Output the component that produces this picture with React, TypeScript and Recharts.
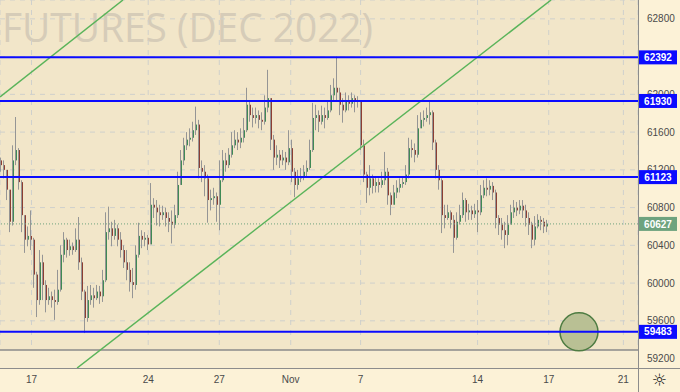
import {
  ComposedChart,
  Bar,
  XAxis,
  YAxis,
  CartesianGrid,
  ReferenceLine,
  ReferenceArea,
  ReferenceDot,
} from 'recharts';

// hourly-ish candles (open = previous close)
const OPEN0 = 61300;
const CLOSE = [
  61250, 61200, 60990, 60650, 61300, 61410, 61070, 60720, 60460, 60500,
  60460, 60090, 59820, 60220, 59980, 59820, 59860, 59820, 59800, 59930,
  60300, 60460, 60350, 60390, 60350, 60460, 60220, 59910, 59630, 59820,
  59870, 59840, 59910, 59860, 60030, 60540, 60580, 60500, 60580, 60460,
  60350, 60220, 60140, 60010, 59980, 60300, 60500, 60460, 60480, 60410,
  60830, 60800, 60750, 60720, 60750, 60690, 60650, 60620, 60720, 61040,
  61300, 61460, 61520, 61540, 61620, 61680, 61220, 61180, 61110, 60880,
  60900, 60920, 60830, 61090, 61300, 61250, 61360, 61460, 61520, 61490,
  61540, 61620, 61890, 61780, 61750, 61780, 61730, 61710, 61860, 61960,
  61520, 61330, 61360, 61300, 61330, 61280, 61430, 61180, 61040, 61110,
  61130, 61180, 61220, 61410, 61750, 61780, 61710, 61780, 61750, 61830,
  61990, 62070, 62020, 61890, 61830, 61940, 61900, 61960, 61920, 61940,
  61460, 61150, 61010, 61110, 61030, 61070, 61040, 61090, 61180, 60930,
  60830, 60960, 61010, 61050, 61070, 61150, 61430, 61410, 61360, 61640,
  61730, 61750, 61780, 61810, 61490, 61200, 61090, 60720, 60690, 60750,
  60670, 60480, 60650, 60720, 60880, 60750, 60770, 60730, 60770, 60750,
  60930, 61010, 60990, 61030, 60960, 60690, 60620, 60560, 60510, 60620,
  60750, 60800, 60770, 60820, 60770, 60690, 60620, 60460, 60600, 60670,
  60650, 60600, 60627,
];
const HIGH = [
  61330, 61300, 61180, 60990, 61460, 61760, 61430, 61090, 60720, 60600,
  60770, 60480, 60120, 60350, 60300, 60030, 59950, 59910, 59930, 60140,
  60400, 60540, 60480, 60460, 60430, 60580, 60700, 60270, 59930, 59970,
  59980, 59950, 59980, 59970, 60140, 60750, 60810, 60650, 60670, 60620,
  60540, 60400, 60350, 60220, 60160, 60400, 60640, 60560, 60540, 60510,
  61060, 60900, 60880, 60830, 60820, 60800, 60750, 60770, 60830, 61180,
  61410, 61540, 61600, 61640, 61710, 61870, 61730, 61300, 61250, 61150,
  60990, 61010, 60960, 61300, 61410, 61380, 61430, 61600, 61620, 61600,
  61640, 61750, 62070, 61940, 61860, 61860, 61830, 61810, 61990, 62260,
  61940, 61570, 61460, 61410, 61410, 61390, 61620, 61520, 61220, 61200,
  61220, 61250, 61300, 61520, 61910, 61890, 61830, 61880, 61860, 61940,
  62100, 62170, 62400, 62070, 61960, 62020, 61990, 62020, 61990, 61980,
  61940, 61520, 61180, 61250, 61150, 61130, 61110, 61180, 61390, 61220,
  60960, 61040, 61090, 61110, 61130, 61250, 61540, 61520, 61480, 61780,
  61810, 61830, 61860, 61920, 61830, 61520, 61250, 61110, 60830, 60830,
  60770, 60720, 60750, 60830, 60960, 60900, 60840, 60820, 60840, 60880,
  61040, 61090, 61110, 61090, 61070, 60990, 60720, 60690, 60650, 60720,
  60830, 60880, 60860, 60880, 60880, 60830, 60750, 60650, 60710, 60730,
  60710, 60690, 60670,
];
const LOW = [
  61180, 61110, 60880, 60540, 60610, 61250, 60990, 60540, 60320, 60390,
  60350, 59950, 59640, 59770, 59820, 59690, 59770, 59740, 59610, 59770,
  59910, 60220, 60270, 60290, 60300, 60330, 60140, 59820, 59470, 59590,
  59770, 59740, 59820, 59780, 59800, 60010, 60460, 60390, 60460, 60390,
  60270, 60160, 60030, 59910, 59840, 59930, 60270, 60370, 60390, 60350,
  60460, 60690, 60610, 60600, 60670, 60600, 60540, 60420, 60580, 60690,
  61040, 61250, 61410, 61450, 61500, 61570, 61110, 61070, 60920, 60640,
  60770, 60830, 60650, 60560, 61070, 61180, 61220, 61330, 61430, 61410,
  61430, 61490, 61600, 61710, 61650, 61690, 61640, 61620, 61680, 61810,
  61410, 61200, 61250, 61220, 61250, 61200, 61250, 61070, 60910, 60990,
  61070, 61090, 61130, 61200, 61390, 61620, 61600, 61680, 61640, 61730,
  61810, 61940, 61920, 61780, 61700, 61810, 61830, 61860, 61810, 61860,
  61410, 61070, 60850, 60930, 60950, 60960, 60960, 61010, 61040, 60830,
  60720, 60830, 60900, 60960, 61010, 61040, 61110, 61330, 61280, 61330,
  61640, 61660, 61710, 61680, 61410, 61110, 60990, 60530, 60580, 60670,
  60580, 60320, 60460, 60620, 60690, 60650, 60670, 60670, 60690, 60540,
  60720, 60900, 60920, 60930, 60880, 60580, 60510, 60460, 60370, 60400,
  60620, 60690, 60710, 60730, 60690, 60600, 60510, 60370, 60400, 60580,
  60560, 60530, 60540,
];

const LEVELS = [62392, 61930, 61123, 59483];
const LAST_PRICE = 60627;
const LOWER_LINE = 59290;
const Y_TICKS = [59200, 59600, 60000, 60400, 60800, 61200, 61600, 62000, 62400, 62800];
const X_TICK_LABELS = ['17', '24', '27', 'Nov', '7', '14', '17', '21'];
const X_TICK_SLOTS = [10.5, 49.4, 73.1, 96.9, 120.2, 159.2, 182.9, 207.8];
// two parallel trend lines, [x slot, price] at each end
const TREND_A = [[0, 61972], [41, 63000]];
const TREND_B = [[25.7, 59100], [183.7, 63000]];
const CIRCLE = { slot: 193, price: 59483 };

const X_DOMAIN = [0, 212.67];
const Y_DOMAIN = [59100, 63000];

const candles = CLOSE.map((c, i) => {
  const o = i === 0 ? OPEN0 : CLOSE[i - 1];
  const h = Math.max(HIGH[i], o, c);
  const l = Math.min(LOW[i], o, c);
  return { t: i + 0.5, open: o, close: c, high: h, low: l, range: [l, h] };
});

const FONT = '"Liberation Sans", Arial, sans-serif';

function Candle(props: any) {
  const { x, y, width, height, payload } = props;
  if (!payload || x == null) return null;
  const top = height < 0 ? y + height : y;
  const h = Math.abs(height);
  const { open, close, high, low } = payload;
  const cx = Math.round(x + width / 2);
  const span = high - low || 1;
  const py = (v: number) => top + ((high - v) / span) * h;
  const bTop = py(Math.max(open, close));
  const bBot = py(Math.min(open, close));
  const up = close >= open;
  return (
    <g>
      <rect x={cx - 1} y={top} width={1} height={Math.max(h, 1)} fill="#959595" />
      <rect
        x={cx}
        y={bTop}
        width={1}
        height={Math.max(bBot - bTop, 1)}
        fill={up ? '#3f8a55' : '#8c3e33'}
      />
    </g>
  );
}

const NoShape = () => null;

const priceTag = (text: string, color: string) => (props: any) => {
  const vb = props.viewBox;
  if (!vb) return null;
  const x = vb.x + vb.width + 1;
  const y = vb.y;
  return (
    <g>
      <rect x={x} y={y - 7} width={38} height={14} fill={color} />
      <text
        x={x + 19}
        y={y}
        dy="0.36em"
        textAnchor="middle"
        fill="#ffffff"
        fontSize={10}
        fontWeight="bold"
        fontFamily={FONT}
      >
        {text}
      </text>
    </g>
  );
};

export default function App() {
  return (
    <div
      style={{
        position: 'fixed',
        left: 0,
        top: 0,
        width: 680,
        height: 392,
        background: '#fcf2d7',
        fontFamily: FONT,
      }}
    >
      <div style={{ position: 'absolute', left: 0, top: 0, width: 638, height: 368, background: '#f2e6c9' }} />
      <svg style={{ position: 'absolute', left: 0, top: 0 }} width={638} height={368}>
        <text
          x={2}
          y={42}
          fontSize={41}
          textLength={371}
          lengthAdjust="spacingAndGlyphs"
          fill="#d6ccb8"
          fontFamily='"Open Sans", sans-serif'
        >
          FUTURES (DEC 2022)
        </text>
      </svg>

      {/* base layer: grid, axes, candles, trend lines */}
      <div style={{ position: 'absolute', left: 0, top: 0 }}>
        <ComposedChart
          width={680}
          height={392}
          data={candles}
          margin={{ top: 0, right: 0, bottom: 0, left: 0 }}
        >
          <CartesianGrid stroke="#cfd0cc" strokeDasharray="5 5" />
          <XAxis
            dataKey="t"
            type="number"
            domain={X_DOMAIN}
            ticks={X_TICK_SLOTS}
            tickFormatter={(v: number) => X_TICK_LABELS[X_TICK_SLOTS.indexOf(v)] ?? ''}
            height={24}
            tickSize={0}
            tickMargin={8}
            axisLine={false}
            tickLine={false}
            tick={{ fill: '#4a4a4a', fontSize: 10, fontFamily: FONT }}
            allowDataOverflow
          />
          <YAxis
            orientation="right"
            domain={Y_DOMAIN}
            ticks={Y_TICKS}
            width={42}
            tickSize={0}
            tickMargin={9}
            axisLine={false}
            tickLine={false}
            tick={{ fill: '#4a4a4a', fontSize: 10, fontFamily: FONT }}
            allowDataOverflow
          />
          <ReferenceArea y1={Y_DOMAIN[0]} y2={LOWER_LINE} fill="#f7edd2" fillOpacity={1} stroke="none" />
          <ReferenceLine y={LOWER_LINE} stroke="#8a8a8a" strokeWidth={1.5} />
          <Bar dataKey="range" barSize={3} shape={<Candle />} isAnimationActive={false} />
          <ReferenceLine
            segment={TREND_A.map(([x, y]) => ({ x, y }))}
            stroke="#5ab45a"
            strokeWidth={1.5}
            ifOverflow="hidden"
          />
          <ReferenceLine
            segment={TREND_B.map(([x, y]) => ({ x, y }))}
            stroke="#5ab45a"
            strokeWidth={1.5}
            ifOverflow="hidden"
          />
          <ReferenceLine y={LAST_PRICE} stroke="#6ea37e" strokeDasharray="1 2" />
          <ReferenceDot
            x={CIRCLE.slot}
            y={CIRCLE.price}
            r={19}
            fill="#b9c094"
            stroke="#4e7c42"
            strokeWidth={1.5}
          />
        </ComposedChart>
      </div>

      {/* top layer: horizontal levels and their price tags, drawn above the axis labels */}
      <div style={{ position: 'absolute', left: 0, top: 0 }}>
        <ComposedChart
          width={680}
          height={392}
          data={candles}
          margin={{ top: 0, right: 0, bottom: 0, left: 0 }}
        >
          <XAxis
            dataKey="t"
            type="number"
            domain={X_DOMAIN}
            height={24}
            tick={false}
            axisLine={false}
            tickLine={false}
            allowDataOverflow
          />
          <YAxis
            orientation="right"
            domain={Y_DOMAIN}
            width={42}
            tick={false}
            axisLine={false}
            tickLine={false}
            allowDataOverflow
          />
          <Bar dataKey="range" barSize={3} shape={<NoShape />} isAnimationActive={false} />
          <ReferenceLine
            y={LAST_PRICE}
            stroke="none"
            label={priceTag(String(LAST_PRICE), '#6ea37e')}
          />
          {LEVELS.map((v) => (
            <ReferenceLine
              key={v}
              y={v}
              stroke="#0b0bff"
              strokeWidth={2}
              label={priceTag(String(v), '#0b0bff')}
            />
          ))}
        </ComposedChart>
      </div>

      <div style={{ position: 'absolute', left: 638, top: 0, width: 1, height: 392, background: '#8c8c8c' }} />
      <div style={{ position: 'absolute', left: 0, top: 368, width: 680, height: 1, background: '#8c8c8c' }} />
      <div
        style={{
          position: 'absolute',
          left: 639,
          top: 369,
          width: 41,
          height: 23,
          lineHeight: '23px',
          textAlign: 'center',
          fontSize: 17,
          color: '#222',
          fontFamily: '"DejaVu Sans", sans-serif',
        }}
      >
        ☼
      </div>
    </div>
  );
}
